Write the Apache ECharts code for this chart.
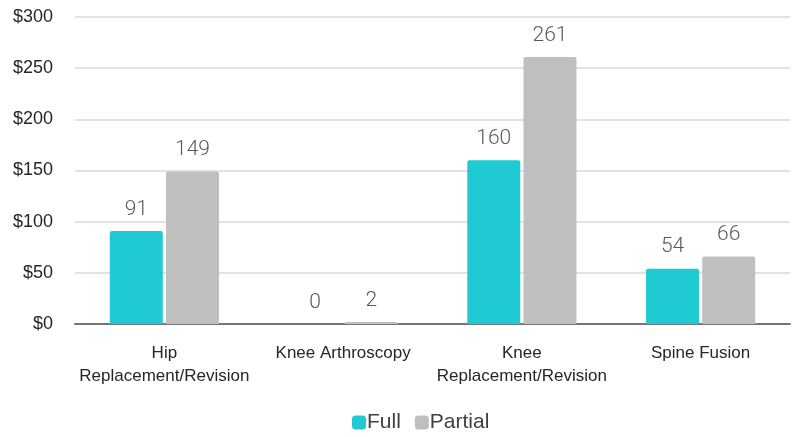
<!DOCTYPE html>
<html>
<head>
<meta charset="utf-8">
<script src="https://cdn.jsdelivr.net/npm/echarts@6/dist/echarts.min.js"></script>
<style>
  html, body { margin: 0; padding: 0; background: #fff; }
  #chart { width: 792px; height: 437px; }
</style>
</head>
<body>
<div id="chart"></div>
<script>
// 数据
const categories = ['Hip\nReplacement/Revision', 'Knee Arthroscopy', 'Knee\nReplacement/Revision', 'Spine Fusion'];
const fullValues = [91, 0, 160, 54];
const partialValues = [149, 2, 261, 66];
const yTicks = [0, 50, 100, 150, 200, 250, 300];

const font = '"Liberation Sans Narrow", "Liberation Sans", Arial, sans-serif';

const chart = echarts.init(document.getElementById('chart'));

// 柱顶数值标签
const labelStyle = {
  show: true,
  position: 'top',
  distance: 11,
  color: '#595959',
  fontSize: 21,
  fontFamily: 'Roboto, sans-serif',
  fontWeight: 300
};

chart.setOption({
  animation: false,
  grid: { left: 75, right: 2, top: 17, bottom: 113 },
  legend: {
    bottom: -1,
    left: 347,
    itemWidth: 14,
    itemHeight: 14,
    itemGap: 14,
    icon: 'roundRect',
    textStyle: { color: '#404040', fontSize: 21, fontFamily: '"Liberation Sans", Arial, sans-serif', padding: [0, 0, 0, -4] },
    data: ['Full', 'Partial']
  },
  xAxis: {
    type: 'category',
    data: categories,
    axisTick: { show: false },
    axisLine: { lineStyle: { color: '#767676', width: 2 } },
    axisLabel: { color: '#262626', fontSize: 17, fontFamily: font, margin: 18, lineHeight: 23, interval: 0 }
  },
  yAxis: {
    type: 'value',
    min: yTicks[0],
    max: yTicks[yTicks.length - 1],
    interval: 50,
    axisLine: { show: false },
    axisTick: { show: false },
    splitLine: { lineStyle: { color: '#d9d9d9', width: 1.5 } },
    axisLabel: { color: '#262626', fontSize: 18, fontFamily: font, margin: 22, formatter: v => '$' + v }
  },
  series: [
    {
      name: 'Full',
      type: 'bar',
      data: fullValues,
      barWidth: 53,
      barGap: '6%',
      itemStyle: { color: '#1fcad3', borderRadius: [2, 2, 0, 0] },
      label: labelStyle
    },
    {
      name: 'Partial',
      type: 'bar',
      data: partialValues,
      barWidth: 53,
      itemStyle: { color: '#bfbfbf', borderRadius: [2, 2, 0, 0] },
      label: labelStyle
    }
  ]
});
</script>
</body>
</html>
